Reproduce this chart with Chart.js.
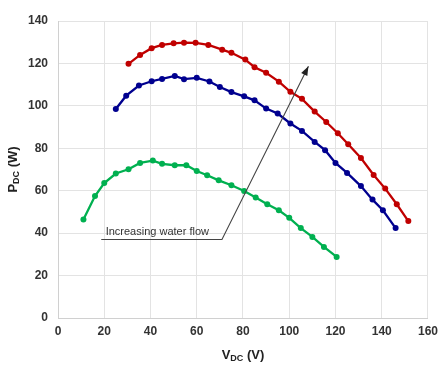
<!DOCTYPE html>
<html>
<head>
    <title>PDC vs VDC</title>
    <script src="https://cdn.jsdelivr.net/npm/chart.js"></script>
    <style>
        body { margin: 0; background: #fff; }
        .chart-container { width: 444px; height: 367px; }
    </style>
</head>
<body>
    <div class="chart-container">
        <canvas id="pvChart"></canvas>
    </div>

    <script>
        // curve readings, V on x and W on y
        const redV = [30.5, 35.5, 40.5, 45, 50, 54.5, 59.5, 65, 71, 75, 81, 85, 90, 95.5, 100.5, 105.5, 111, 116, 121, 125.5, 131, 136.5, 141.5, 146.5, 151.5];
        const redP = [119.8, 124, 127.2, 128.7, 129.5, 129.8, 129.7, 128.7, 126.5, 125, 121.8, 118.2, 115.6, 111.4, 106.6, 103.3, 97.3, 92.4, 87.1, 81.9, 75.4, 67.4, 61, 53.6, 45.7];

        const blueV = [25, 29.5, 35, 40.5, 45, 50.5, 54.5, 60, 65.5, 70, 75, 80.5, 85, 90, 95, 100.5, 105.5, 111, 115.5, 120, 125, 131, 136, 140.5, 146];
        const blueP = [98.5, 104.8, 109.6, 111.6, 112.7, 114.1, 112.6, 113.2, 111.5, 108.9, 106.5, 104.5, 102.6, 98.7, 96.4, 91.7, 88.2, 83, 79.1, 73.1, 68.4, 62.2, 55.8, 50.8, 42.4];

        const greenV = [11, 16, 20, 25, 30.5, 35.5, 41, 45, 50.5, 55.5, 60, 64.5, 69.5, 75, 80.5, 85.5, 90.5, 95.5, 100, 105, 110, 115, 120.5];
        const greenP = [46.4, 57.5, 63.6, 68.1, 70.1, 73.1, 74.2, 72.7, 72, 72, 69.3, 67.3, 64.9, 62.6, 59.9, 56.8, 53.6, 50.8, 47.2, 42.4, 38.2, 33.5, 28.8];

        const xTicks = [0, 20, 40, 60, 80, 100, 120, 140, 160];
        const yTicks = [0, 20, 40, 60, 80, 100, 120, 140];

        // annotation: leader line + arrow, in data units
        const arrowPath = [[18.7, 37], [70.9, 37], [108.3, 118.7]];
        const arrowText = 'Increasing water flow';
        const arrowTextAt = [20.6, 40.5];

        function toPoints(xs, ys) {
            return xs.map((v, i) => ({ x: v, y: ys[i] }));
        }

        function series(xs, ys, color) {
            return {
                data: toPoints(xs, ys),
                showLine: true,
                borderColor: color,
                backgroundColor: color,
                borderWidth: 2.3,
                pointRadius: 3,
                pointBorderWidth: 0,
                tension: 0
            };
        }

        const tickFont = { family: 'Liberation Sans, Arial, sans-serif', size: 12, weight: 'bold' };

        function drawSubLabel(ctx, main, sub, tail, x, y) {
            ctx.font = 'bold 13px Liberation Sans, Arial, sans-serif';
            const w1 = ctx.measureText(main).width;
            const w3 = ctx.measureText(tail).width;
            ctx.font = 'bold 9px Liberation Sans, Arial, sans-serif';
            const w2 = ctx.measureText(sub).width;
            let cx = x - (w1 + w2 + w3) / 2;
            ctx.textBaseline = 'middle';
            ctx.textAlign = 'left';
            ctx.font = 'bold 13px Liberation Sans, Arial, sans-serif';
            ctx.fillText(main, cx, y);
            cx += w1;
            ctx.font = 'bold 9px Liberation Sans, Arial, sans-serif';
            ctx.fillText(sub, cx, y + 4);
            cx += w2;
            ctx.font = 'bold 13px Liberation Sans, Arial, sans-serif';
            ctx.fillText(tail, cx, y);
        }

        const extras = {
            id: 'extras',
            afterDraw(chart) {
                const ctx = chart.ctx;
                const xs = chart.scales.x, ys = chart.scales.y;
                ctx.save();

                // leader line and arrow
                const pts = arrowPath.map(p => [xs.getPixelForValue(p[0]), ys.getPixelForValue(p[1])]);
                ctx.strokeStyle = '#444';
                ctx.lineWidth = 1.1;
                ctx.beginPath();
                ctx.moveTo(pts[0][0], pts[0][1]);
                for (let i = 1; i < pts.length; i++) ctx.lineTo(pts[i][0], pts[i][1]);
                ctx.stroke();
                const a = pts[pts.length - 2], b = pts[pts.length - 1];
                const ang = Math.atan2(b[1] - a[1], b[0] - a[0]);
                ctx.fillStyle = '#222';
                ctx.beginPath();
                ctx.moveTo(b[0], b[1]);
                ctx.lineTo(b[0] - 10 * Math.cos(ang - 0.35), b[1] - 10 * Math.sin(ang - 0.35));
                ctx.lineTo(b[0] - 10 * Math.cos(ang + 0.35), b[1] - 10 * Math.sin(ang + 0.35));
                ctx.closePath();
                ctx.fill();

                ctx.font = '11px Liberation Sans, Arial, sans-serif';
                ctx.fillStyle = '#333';
                ctx.textAlign = 'left';
                ctx.textBaseline = 'middle';
                ctx.fillText(arrowText, xs.getPixelForValue(arrowTextAt[0]), ys.getPixelForValue(arrowTextAt[1]));

                // axis titles with subscripts
                ctx.fillStyle = '#222';
                drawSubLabel(ctx, 'V', 'DC', ' (V)', (xs.left + xs.right) / 2, 355);
                ctx.translate(13, (ys.top + ys.bottom) / 2);
                ctx.rotate(-Math.PI / 2);
                drawSubLabel(ctx, 'P', 'DC', ' (W)', 0, 0);
                ctx.restore();
            }
        };

        new Chart(document.getElementById('pvChart'), {
            type: 'scatter',
            data: {
                datasets: [
                    series(redV, redP, '#c00000'),
                    series(blueV, blueP, '#00008f'),
                    series(greenV, greenP, '#00b050')
                ]
            },
            options: {
                responsive: true,
                maintainAspectRatio: false,
                animation: false,
                layout: { padding: { left: 0, right: 15, top: 21, bottom: 0 } },
                plugins: {
                    legend: { display: false },
                    tooltip: { enabled: false }
                },
                scales: {
                    x: {
                        type: 'linear',
                        min: 0,
                        max: 160,
                        afterBuildTicks: s => { s.ticks = xTicks.map(v => ({ value: v })); },
                        afterFit: s => { s.height = 49; },
                        ticks: { color: '#333', font: tickFont, padding: 6 },
                        grid: { color: '#e3e3e3', tickLength: 0 },
                        border: { color: '#d0d0d0' }
                    },
                    y: {
                        min: 0,
                        max: 140,
                        afterBuildTicks: s => { s.ticks = yTicks.map(v => ({ value: v })); },
                        afterFit: s => { s.width = 58; },
                        ticks: { color: '#333', font: tickFont, padding: 10 },
                        grid: { color: '#e3e3e3', tickLength: 0 },
                        border: { color: '#d0d0d0' }
                    }
                }
            },
            plugins: [extras]
        });
    </script>
</body>
</html>
